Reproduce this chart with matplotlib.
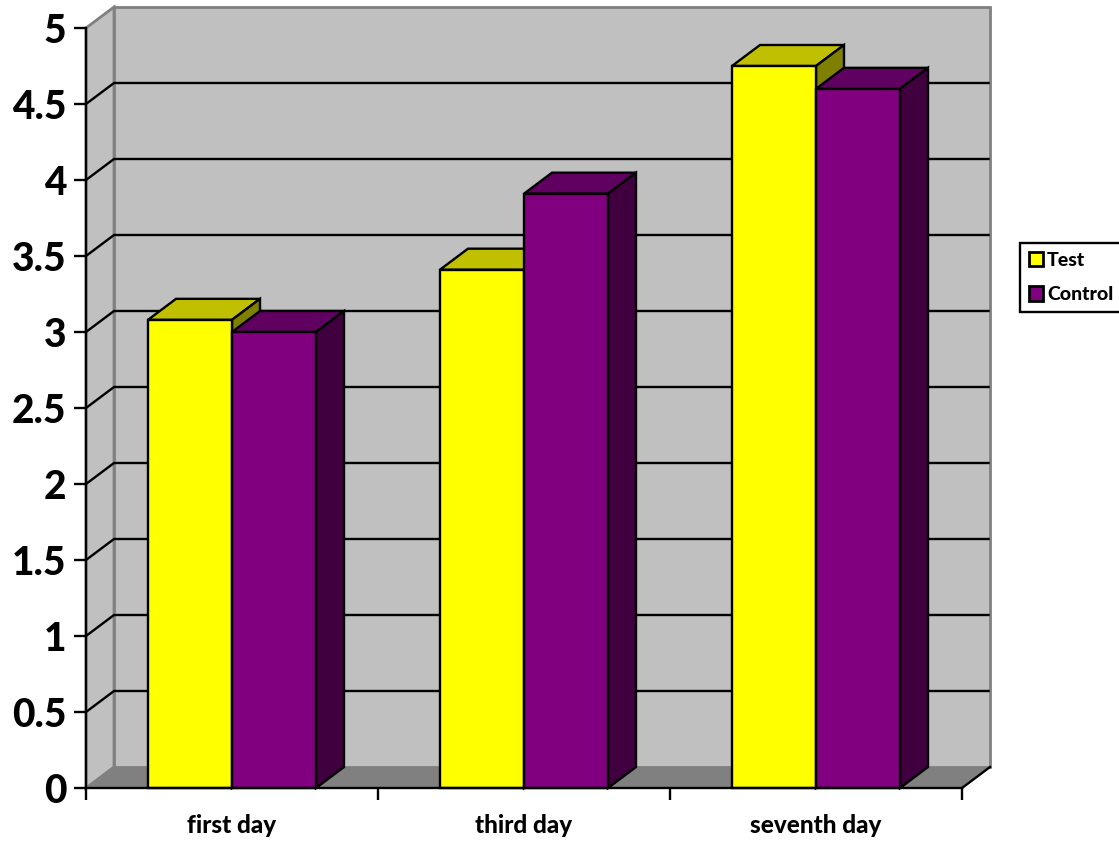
import matplotlib
matplotlib.use("Agg")
import matplotlib.pyplot as plt
from matplotlib.patches import Polygon, Patch

categories = ["first day", "third day", "seventh day"]
test_values = [3.08, 3.41, 4.75]
control_values = [3.0, 3.91, 4.6]
y_ticks = [0, 0.5, 1, 1.5, 2, 2.5, 3, 3.5, 4, 4.5, 5]
y_tick_labels = ["0", "0.5", "1", "1.5", "2", "2.5", "3", "3.5", "4", "4.5", "5"]

W, H = 1119, 843
LEFT, RIGHT, TOP, BOTTOM = 86, 962, 28, 788
LW = 1.7

# depth of the 3d box in data units (28 px right, 21 px up)
DX = 28 / ((RIGHT - LEFT) / 3)
DY = 21 / ((BOTTOM - TOP) / 5)
BAR_W = 84 / ((RIGHT - LEFT) / 3)

plt.rcParams["font.family"] = ["Lato", "DejaVu Sans"]
plt.rcParams["font.weight"] = "black"

fig = plt.figure(figsize=(W / 100, H / 100), dpi=100)
ax = fig.add_axes([LEFT / W, 1 - BOTTOM / H, (RIGHT - LEFT) / W, (BOTTOM - TOP) / H])
ax.set_xlim(0, 3)
ax.set_ylim(0, 5)
ax.patch.set_visible(False)


def face(points, color, edge="black", lw=LW, z=2):
    ax.add_patch(Polygon(points, closed=True, facecolor=color, edgecolor=edge,
                         linewidth=lw, joinstyle="miter", clip_on=False, zorder=z))


# walls and floor
face([(0, 0), (DX, DY), (DX, 5 + DY), (0, 5)], "#c0c0c0", "#808080", 2, 1)
face([(0, 0), (3, 0), (3 + DX, DY), (DX, DY)], "#808080", "#808080", 1, 1)
face([(DX, DY), (3 + DX, DY), (3 + DX, 5 + DY), (DX, 5 + DY)], "#c0c0c0", "#808080", 2, 1)
ax.plot([3, 3 + DX], [0, DY], color="black", lw=LW, clip_on=False, zorder=1.5)

# gridlines run along the side wall and the back wall
for t in y_ticks[1:-1]:
    ax.plot([0, DX, 3 + DX - 0.005], [t, t + DY, t + DY], color="black", lw=LW,
            clip_on=False, zorder=1.5, solid_joinstyle="miter")


def bar3d(x, value, front, top, side, z):
    ax.bar(x, value, BAR_W, align="edge", color=front, edgecolor="black",
           linewidth=LW, zorder=z + 0.1, clip_on=False)
    face([(x, value), (x + BAR_W, value), (x + BAR_W + DX, value + DY), (x + DX, value + DY)], top, z=z)
    face([(x + BAR_W, 0), (x + BAR_W + DX, DY), (x + BAR_W + DX, value + DY), (x + BAR_W, value)], side, z=z)


for i in range(len(categories)):
    bar3d(i + 0.5 - BAR_W, test_values[i], "#ffff00", "#c0c000", "#808000", 2 + i)
    bar3d(i + 0.5, control_values[i], "#800080", "#600060", "#400040", 2.5 + i)

# axes
for name in ["top", "right"]:
    ax.spines[name].set_visible(False)
for name in ["left", "bottom"]:
    ax.spines[name].set_linewidth(LW)
    ax.spines[name].set_zorder(10)

ax.set_yticks(y_ticks)
ax.set_yticklabels(y_tick_labels, fontsize=28, fontweight="black")
ax.tick_params(axis="y", length=8.6, width=LW, pad=5.5)
ax.set_xticks([0, 1, 2, 3])
ax.set_xticklabels([])
ax.tick_params(axis="x", which="major", length=8.6, width=LW)
ax.set_xticks([0.5, 1.5, 2.5], minor=True)
ax.set_xticklabels(categories, minor=True, fontsize=17.5, fontweight="black")
ax.tick_params(axis="x", which="minor", length=0, pad=18.5)

handles = [Patch(facecolor="#ffff00", edgecolor="black", linewidth=2, label="Test"),
           Patch(facecolor="#800080", edgecolor="black", linewidth=2, label="Control")]
leg = fig.legend(handles=handles, loc="lower left",
                 bbox_to_anchor=(1020 / W, 1 - 312 / H, 110 / W, 71 / H),
                 mode="expand", borderaxespad=0, fancybox=False, framealpha=1,
                 edgecolor="black", fontsize=14, handlelength=0.75, handleheight=0.75,
                 handletextpad=0.2, labelspacing=0.9, borderpad=0.45)
leg.get_frame().set_linewidth(LW)

fig.savefig("out.png", dpi=100)
